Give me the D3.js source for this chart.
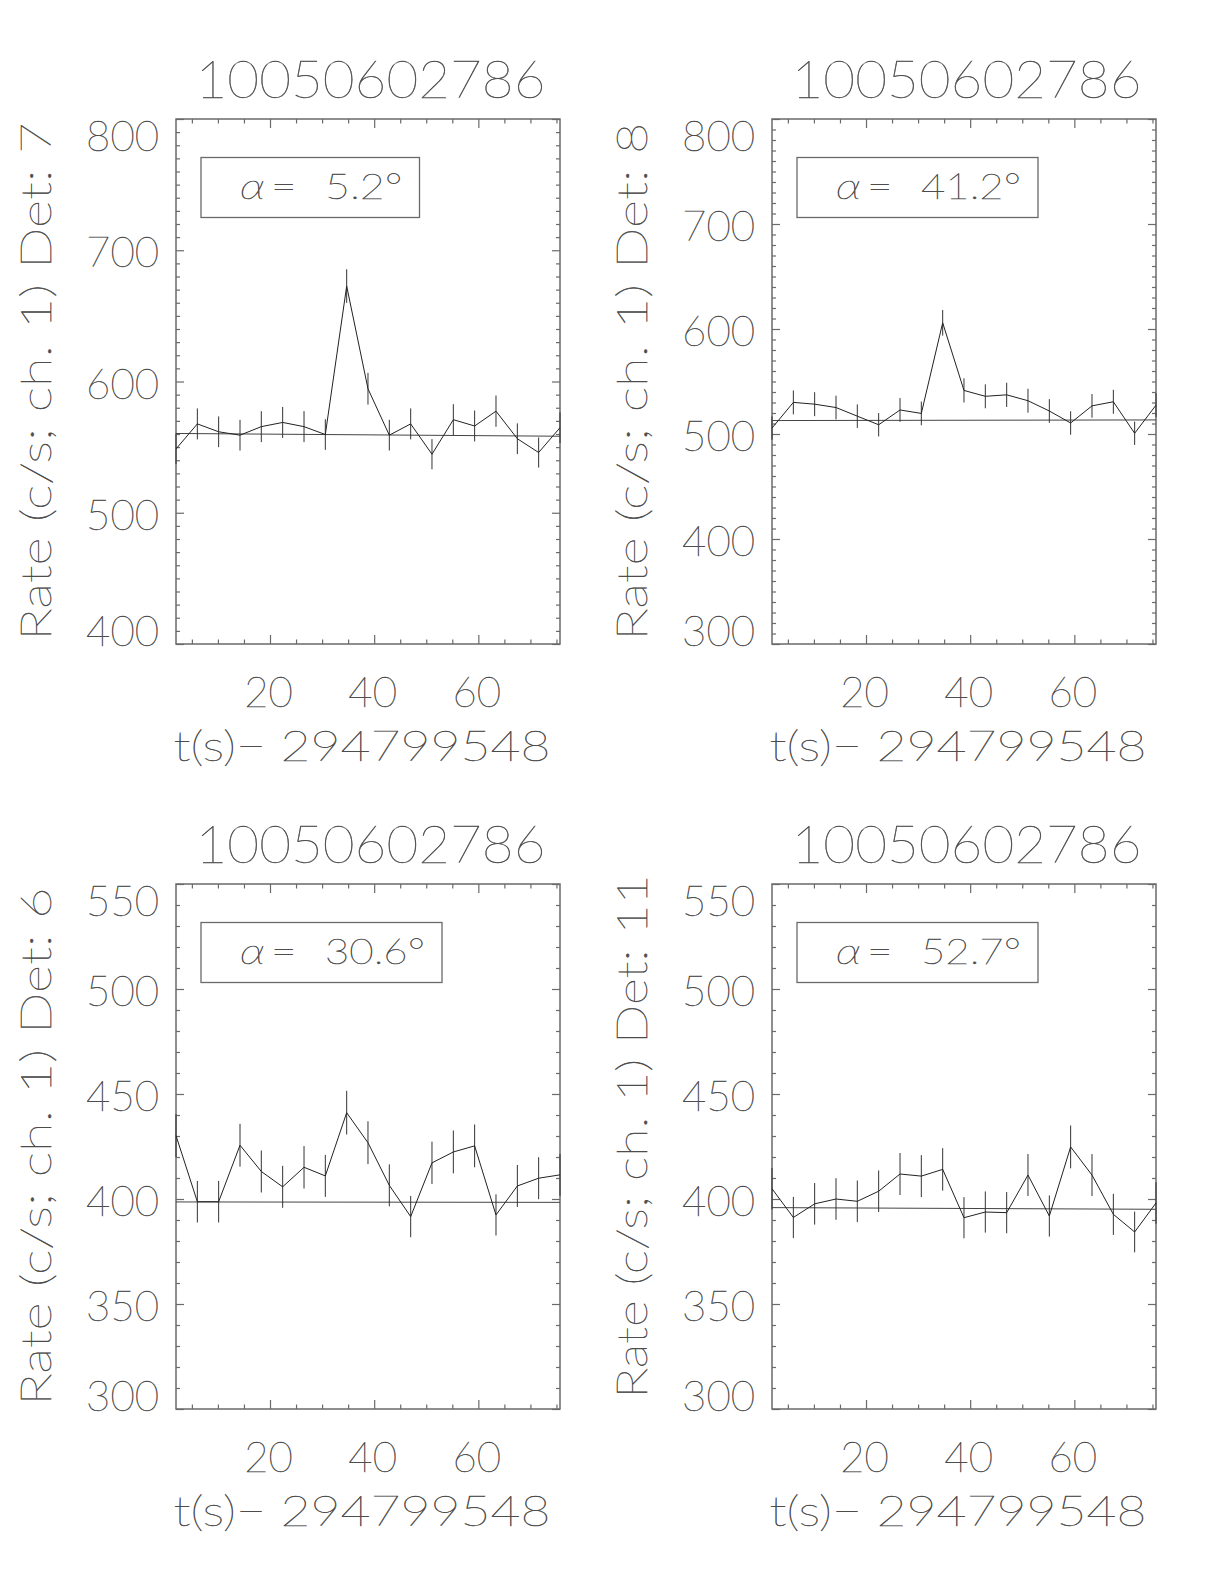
<!DOCTYPE html>
<html>
<head>
<meta charset="utf-8">
<script src="https://cdn.jsdelivr.net/npm/d3@7"></script>
<style>
  body { margin: 0; background: #fff; }
</style>
</head>
<body>
<script>
// light curves of burst 10050602786, four detectors
const runId = "10050602786";
const xTitle = "t(s)\u2212 294799548";

// bin times, s after 294799548
const times = [1.95, 6.05, 10.14, 14.24, 18.33, 22.43, 26.53, 30.62, 34.72, 38.81,
  42.91, 47.01, 51.10, 55.20, 59.29, 63.39, 67.49, 71.58, 75.68];

// det 7
const rate7 = [548.6, 567.7, 561.7, 559.1, 565.6, 568.8, 565.6, 559.6, 672.7, 594.5,
  559.1, 567.7, 544.6, 570.9, 566.1, 577.4, 556.4, 545.9, 564.8];
const err7 = [11.6, 11.8, 11.7, 11.7, 11.8, 11.8, 11.8, 11.7, 12.8, 12.1,
  11.7, 11.8, 11.5, 11.8, 11.8, 11.9, 11.7, 11.5, 11.7];
const bkg7 = [560.4, 558.3];

// det 8
const rate8 = [505.6, 530.1, 528.4, 525.2, 517.0, 508.8, 522.9, 519.6, 605.9, 541.5,
  535.9, 537.3, 531.7, 521.9, 510.5, 526.8, 530.7, 500.7, 527.5];
const err8 = [11.1, 11.4, 11.4, 11.3, 11.2, 11.1, 11.3, 11.3, 12.2, 11.5,
  11.4, 11.5, 11.4, 11.3, 11.2, 11.3, 11.4, 11.1, 11.4];
const bkg8 = [512.8, 513.4];

// det 6
const rate6 = [430.2, 398.7, 398.7, 425.6, 413.1, 405.8, 415.1, 411.0, 441.1, 426.8,
  406.5, 391.6, 417.2, 422.4, 425.3, 392.4, 406.2, 409.9, 411.5];
const err6 = [10.2, 9.9, 9.9, 10.2, 10.0, 10.0, 10.1, 10.0, 10.4, 10.2,
  10.0, 9.8, 10.1, 10.2, 10.2, 9.8, 10.0, 10.0, 10.0];
const bkg6 = [398.6, 398.4];

// det 11
const rate11 = [404.9, 391.2, 397.7, 400.0, 398.9, 403.7, 411.9, 410.9, 414.1, 391.1,
  393.8, 393.5, 411.4, 391.9, 424.8, 411.4, 392.7, 384.3, 398.1];
const err11 = [9.9, 9.8, 9.9, 9.9, 9.9, 9.9, 10.0, 10.0, 10.1, 9.8,
  9.8, 9.8, 10.0, 9.8, 10.2, 10.0, 9.8, 9.7, 9.9];
const bkg11 = [395.9, 395.1];

const detectors = [7, 8, 6, 11];
const alphas = ["5.2", "41.2", "30.6", "52.7"];
const rates = [rate7, rate8, rate6, rate11];
const errs = [err7, err8, err6, err11];
const bkgs = [bkg7, bkg8, bkg6, bkg11];
const yRanges = [[400, 800], [300, 800], [300, 550], [300, 550]];
const yMajorSteps = [100, 100, 50, 50];
const xLabels = [20, 40, 60];

// layout
const colLeft = [176, 772];
const rowTop = [119, 884];
const pw = 384, ph = 525;
const textColor = "#4d4d4d";
const lineColor = "#6a6a6a";
const font = "Lato, Roboto, 'DejaVu Sans', sans-serif";

const svg = d3.select("body").append("svg")
  .attr("width", 1224)
  .attr("height", 1584)
  .style("font-family", font)
  .style("font-weight", 200);

svg.append("rect").attr("width", 1224).attr("height", 1584).attr("fill", "#fff");

//thin hershey-like strokes: hairline font plus a faint outline
function label(sel) {
  return sel.attr("fill", textColor)
    .attr("stroke", textColor)
    .attr("stroke-width", 0.45)
    .attr("lengthAdjust", "spacingAndGlyphs");
}

detectors.forEach((det, i) => {
  const left = colLeft[i % 2];
  const top = rowTop[Math.floor(i / 2)];
  const g = svg.append("g").attr("transform", `translate(${left},${top})`);

  const x = d3.scaleLinear().domain([times[0], times[times.length - 1]]).range([0, pw]);
  const y = d3.scaleLinear().domain(yRanges[i]).range([ph, 0]);

  const yMajor = d3.range(yRanges[i][0], yRanges[i][1] + 0.1, yMajorSteps[i]);
  const yMinor = d3.range(yRanges[i][0], yRanges[i][1] + 0.1, 10).filter(v => !yMajor.includes(v));
  const xMinor = d3.range(5, 76, 5).filter(v => !xLabels.includes(v));

  //ticks on all four sides, pointing inward
  const tickSets = [
    [d3.axisBottom(x).tickValues(xLabels).tickSize(-9), `translate(0,${ph})`],
    [d3.axisBottom(x).tickValues(xMinor).tickSize(-4.5), `translate(0,${ph})`],
    [d3.axisTop(x).tickValues(xLabels).tickSize(-9), "translate(0,0)"],
    [d3.axisTop(x).tickValues(xMinor).tickSize(-4.5), "translate(0,0)"],
    [d3.axisLeft(y).tickValues(yMajor).tickSize(-8), "translate(0,0)"],
    [d3.axisLeft(y).tickValues(yMinor).tickSize(-4), "translate(0,0)"],
    [d3.axisRight(y).tickValues(yMajor).tickSize(-8), `translate(${pw},0)`],
    [d3.axisRight(y).tickValues(yMinor).tickSize(-4), `translate(${pw},0)`],
  ];
  tickSets.forEach(([ax, tr]) => {
    const a = g.append("g").attr("transform", tr)
      .call(ax.tickSizeOuter(0).tickFormat(""));
    a.select(".domain").remove();
    a.selectAll("line").attr("stroke", lineColor).attr("stroke-width", 1.2);
  });

  //frame
  g.append("rect")
    .attr("width", pw).attr("height", ph)
    .attr("fill", "none")
    .attr("stroke", lineColor)
    .attr("stroke-width", 1.5);

  //background level
  const bkg = bkgs[i];
  g.append("line")
    .attr("x1", x(times[0])).attr("y1", y(bkg[0]))
    .attr("x2", x(times[times.length - 1])).attr("y2", y(bkg[1]))
    .attr("stroke", "#444").attr("stroke-width", 1);

  const pts = times.map((t, k) => ({ t, r: rates[i][k], e: errs[i][k] }));

  //error bars
  g.selectAll(".err").data(pts).enter().append("line")
    .attr("class", "err")
    .attr("x1", d => x(d.t)).attr("x2", d => x(d.t))
    .attr("y1", d => y(d.r - d.e)).attr("y2", d => y(d.r + d.e))
    .attr("stroke", "#333").attr("stroke-width", 1);

  //rate curve
  g.append("path")
    .datum(pts)
    .attr("d", d3.line().x(d => x(d.t)).y(d => y(d.r)))
    .attr("fill", "none")
    .attr("stroke", "#222")
    .attr("stroke-width", 1);

  //y tick labels (end labels pulled inside)
  g.selectAll(".ylab").data(yMajor).enter().append("text")
    .attr("class", "ylab")
    .attr("x", -17)
    .attr("y", (v, k) => {
      let off = 17;
      if (k === 0) off = 2;
      if (k === yMajor.length - 1) off = 32;
      return y(v) + off;
    })
    .attr("text-anchor", "end")
    .attr("font-size", 41)
    .attr("textLength", v => String(v).length * 24.3)
    .call(label)
    .text(v => v);

  //x tick labels
  g.selectAll(".xlab").data(xLabels).enter().append("text")
    .attr("class", "xlab")
    .attr("x", v => x(v) - 1.5)
    .attr("y", ph + 63)
    .attr("text-anchor", "middle")
    .attr("font-size", 41)
    .attr("textLength", v => String(v).length * 24.3)
    .call(label)
    .text(v => v);

  //x title
  g.append("text")
    .attr("x", pw / 2 - 6)
    .attr("y", ph + 117)
    .attr("text-anchor", "middle")
    .attr("font-size", 41)
    .attr("textLength", 377)
    .call(label)
    .text(xTitle);

  //y title
  const yTitle = `Rate (c/s; ch. 1) Det: ${det}`;
  g.append("text")
    .attr("transform", `translate(-125.5,${ph / 2 - (det > 9 ? 10 : 0)}) rotate(-90)`)
    .attr("text-anchor", "middle")
    .attr("font-size", 41)
    .attr("textLength", det > 9 ? 524 : 518)
    .call(label)
    .text(yTitle);

  //panel title
  g.append("text")
    .attr("x", pw / 2 + 2.5)
    .attr("y", -21.5)
    .attr("text-anchor", "middle")
    .attr("font-size", 52)
    .attr("textLength", 350)
    .call(label)
    .text(runId);

  //angle box
  const num = alphas[i] + "\u00b0";
  const numLen = num.length * 22.5 - 12.5;
  const box = g.append("g").attr("transform", "translate(25,38.5)");
  box.append("rect")
    .attr("width", 124 + numLen + 17)
    .attr("height", 60)
    .attr("fill", "none")
    .attr("stroke", lineColor)
    .attr("stroke-width", 1.3);
  box.append("text")
    .attr("x", 39).attr("y", 41.7)
    .attr("font-size", 36)
    .attr("font-style", "italic")
    .attr("textLength", 25)
    .call(label)
    .text("\u03b1");
  box.append("text")
    .attr("x", 70).attr("y", 41.7)
    .attr("font-size", 36)
    .attr("textLength", 25.5)
    .call(label)
    .text("=");
  box.append("text")
    .attr("x", 124).attr("y", 41.7)
    .attr("font-size", 36)
    .attr("textLength", numLen)
    .call(label)
    .text(num);
});
</script>
</body>
</html>
